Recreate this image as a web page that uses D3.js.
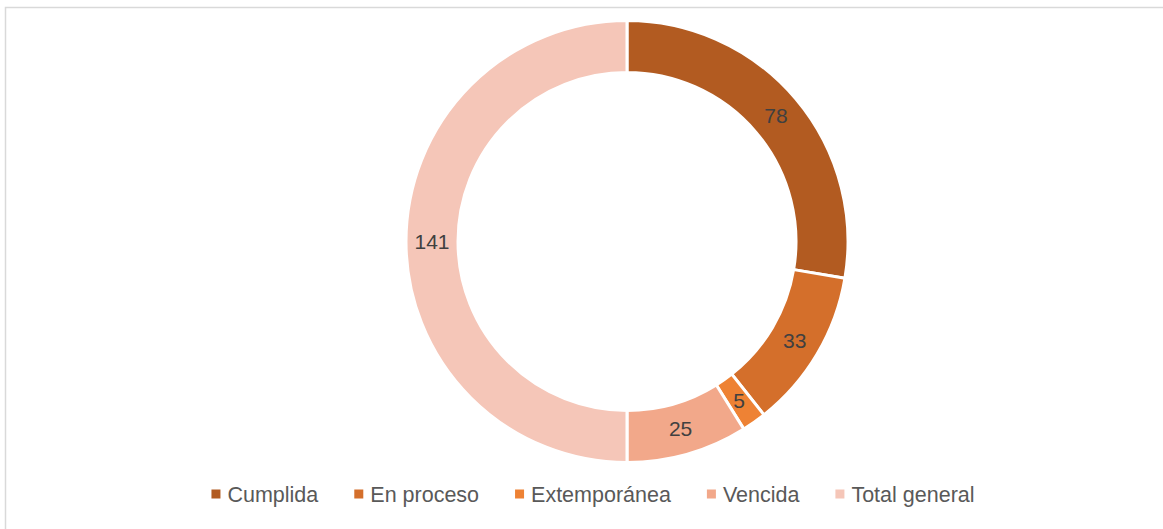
<!DOCTYPE html>
<html><head><meta charset="utf-8">
<script src="https://cdn.jsdelivr.net/npm/d3@7"></script>
<style>html,body{margin:0;padding:0;background:#fff;overflow:hidden}</style>
</head><body>
<svg id="c" width="1163" height="529"></svg>
<script>
const categories = ["Cumplida", "En proceso", "Extemporánea", "Vencida", "Total general"];
const values = [78, 33, 5, 25, 141];
const colors = ["#B25B21", "#D46F2B", "#EE8234", "#F2A88A", "#F5C6B8"];

const svg = d3.select("#c");
const W = 1163, H = 529;
const font = "'Liberation Sans', Arial, sans-serif";

// chart border
svg.append("rect").attr("x", 5.5).attr("y", 7.5).attr("width", W + 20).attr("height", H + 20)
  .attr("fill", "#fff").attr("stroke", "#D9D9D9").attr("stroke-width", 1.5);

const cx = 627, cy = 241.5, rOut = 221, rIn = 169;
const pie = d3.pie().sort(null).value(d => d.v);
const arcs = pie(categories.map((c, i) => ({c, v: values[i], col: colors[i]})));
const arc = d3.arc().innerRadius(rIn).outerRadius(rOut);
const labelArc = d3.arc().innerRadius((rIn + rOut) / 2).outerRadius((rIn + rOut) / 2);

const g = svg.append("g").attr("transform", `translate(${cx},${cy})`);
g.selectAll("path").data(arcs).join("path")
  .attr("d", arc).attr("fill", d => d.data.col)
  .attr("stroke", "#fff").attr("stroke-width", 3);
g.selectAll("text").data(arcs).join("text")
  .attr("transform", d => `translate(${labelArc.centroid(d)})`)
  .attr("text-anchor", "middle").attr("dy", "0.35em")
  .attr("font-family", font).attr("font-size", 21).attr("fill", "#404040")
  .text(d => d.data.v);

// legend
const lg = svg.append("g");
const fs = 21.5, sq = 9, gap1 = 7, gap2 = 36;
const items = lg.selectAll("g").data(categories).join("g");
items.append("rect").attr("width", sq).attr("height", sq).attr("y", -sq / 2)
  .attr("fill", (d, i) => colors[i]);
items.append("text").attr("x", sq + gap1).attr("dy", "0.35em")
  .attr("font-family", font).attr("font-size", fs).attr("fill", "#595959").text(d => d);
let x = 0;
const pos = [];
items.each(function () {
  const w = sq + gap1 + d3.select(this).select("text").node().getComputedTextLength();
  pos.push(x); x += w + gap2;
});
const total = x - gap2;
const startX = 593 - total / 2;
items.attr("transform", (d, i) => `translate(${startX + pos[i]},494)`);
</script>
</body></html>
